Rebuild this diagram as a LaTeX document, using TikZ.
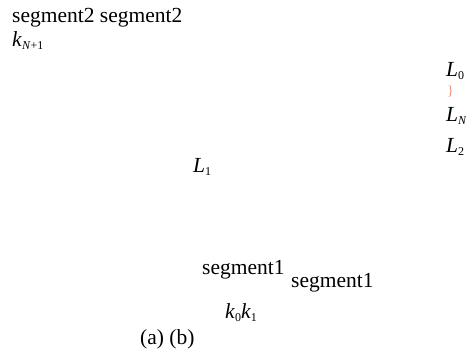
\documentclass[tikz,border=0pt]{standalone}
\usepackage{fontspec}
\setmainfont{Liberation Serif}
\definecolor{braceorange}{RGB}{240,150,115}
\newcommand{\subtxt}[1]{{\fontsize{12}{12}\selectfont\raisebox{-3.5pt}{#1}}}
\tikzset{
  lbl/.style={anchor=base west, inner sep=0pt, font=\fontsize{21.5}{24}\selectfont},
  bracemark/.style={inner sep=0pt, text=braceorange, font=\fontsize{14}{14}\selectfont}
}
\begin{document}
\begin{tikzpicture}[x=1pt,y=1pt]
\useasboundingbox (0,0) rectangle (466,-349);
\node[lbl] (seg2) at (12,-22) {segment2 segment2};
\node[lbl] (kN1) at (12,-46) {\textit{k}\subtxt{\textit{N}+1}};
\node[lbl] (L0) at (446,-76) {\textit{L}\subtxt{0}};
\node[bracemark] (br) at (450.5,-92) {\}};
\node[lbl] (LN) at (446,-121) {\textit{L}\subtxt{\textit{N}}};
\node[lbl] (L2) at (446,-152) {\textit{L}\subtxt{2}};
\node[lbl] (L1) at (193,-172) {\textit{L}\subtxt{1}};
\node[lbl] (seg1a) at (202,-274) {segment1};
\node[lbl] (seg1b) at (291,-287) {segment1};
\node[lbl] (k01) at (225,-318) {\textit{k}\subtxt{0}\textit{k}\subtxt{1}};
\node[lbl] (ab) at (140,-344) {(a) (b)};
\end{tikzpicture}
\end{document}
